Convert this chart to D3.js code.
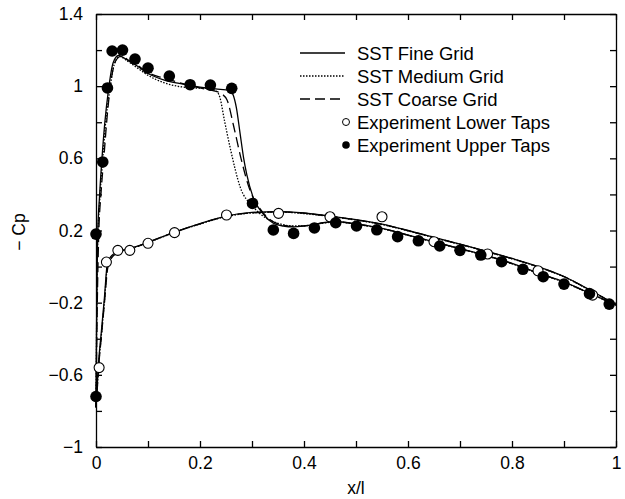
<!DOCTYPE html>
<html>
<head>
<meta charset="utf-8">
<script src="https://cdn.jsdelivr.net/npm/d3@7"></script>
<style>
  body { margin: 0; background: #fff; }
  text { font-family: "Liberation Sans", Arial, Helvetica, sans-serif; fill: #000; }
</style>
</head>
<body>
<div id="graph-container"></div>
<script>
// Experiment taps: [x/l, -Cp]
var upperTaps = [[0, -0.72], [0, 0.18], [0.013, 0.58], [0.022, 0.99], [0.031, 1.195], [0.051, 1.2],
  [0.075, 1.15], [0.1, 1.1], [0.141, 1.056], [0.181, 1.008], [0.22, 1.006], [0.261, 0.988],
  [0.301, 0.35], [0.341, 0.203], [0.38, 0.184], [0.42, 0.214], [0.461, 0.243], [0.501, 0.225],
  [0.54, 0.204], [0.58, 0.166], [0.62, 0.143], [0.661, 0.114], [0.7, 0.09], [0.74, 0.064],
  [0.78, 0.027], [0.821, -0.015], [0.86, -0.056], [0.9, -0.097], [0.949, -0.15], [0.987, -0.208]];
var lowerTaps = [[0.006, -0.56], [0.02, 0.025], [0.042, 0.09], [0.065, 0.09], [0.1, 0.129],
  [0.151, 0.188], [0.251, 0.286], [0.351, 0.295], [0.45, 0.276], [0.55, 0.276], [0.65, 0.138],
  [0.753, 0.07], [0.85, -0.023], [0.955, -0.158]];

// SST results, upper and lower surface: [x/l, -Cp]
var fineUpper = [[0, -0.78], [0.001, -0.35], [0.003, 0.15], [0.007, 0.4], [0.011, 0.58], [0.017, 0.8],
  [0.024, 0.98], [0.033, 1.13], [0.043, 1.17], [0.06, 1.145], [0.08, 1.11], [0.1, 1.07], [0.13, 1.035],
  [0.16, 1.015], [0.2, 0.995], [0.23, 0.985], [0.258, 0.975], [0.264, 0.95], [0.27, 0.88], [0.277, 0.74],
  [0.284, 0.6], [0.29, 0.51], [0.302, 0.385], [0.322, 0.29], [0.341, 0.24], [0.36, 0.225], [0.38, 0.22],
  [0.4, 0.225], [0.43, 0.24], [0.46, 0.25], [0.5, 0.237], [0.55, 0.212], [0.6, 0.175], [0.65, 0.137],
  [0.7, 0.1], [0.75, 0.062], [0.8, 0.018], [0.85, -0.035], [0.9, -0.085], [0.95, -0.148], [1, -0.212]];
var fineLower = [[0, -0.78], [0.002, -0.68], [0.005, -0.53], [0.01, -0.37], [0.016, -0.18], [0.022, 0.02],
  [0.03, 0.06], [0.04, 0.08], [0.06, 0.097], [0.08, 0.113], [0.1, 0.135], [0.15, 0.19], [0.2, 0.238],
  [0.25, 0.28], [0.3, 0.3], [0.35, 0.305], [0.4, 0.297], [0.45, 0.28], [0.5, 0.26], [0.55, 0.235],
  [0.6, 0.2], [0.65, 0.162], [0.7, 0.125], [0.75, 0.086], [0.8, 0.045], [0.85, 0.0], [0.9, -0.055],
  [0.95, -0.13], [1, -0.212]];
var mediumUpper = [[0, -0.78], [0.001, -0.4], [0.003, 0.1], [0.007, 0.36], [0.012, 0.56], [0.018, 0.78],
  [0.026, 0.97], [0.035, 1.12], [0.045, 1.165], [0.06, 1.14], [0.08, 1.1], [0.1, 1.06], [0.13, 1.02],
  [0.16, 0.998], [0.19, 0.99], [0.215, 0.988], [0.23, 0.975], [0.238, 0.94], [0.247, 0.81], [0.259, 0.646],
  [0.277, 0.443], [0.302, 0.332], [0.328, 0.267], [0.35, 0.24], [0.38, 0.225], [0.4, 0.226], [0.43, 0.238],
  [0.46, 0.247], [0.5, 0.235], [0.55, 0.21], [0.6, 0.173], [0.65, 0.135], [0.7, 0.098], [0.75, 0.06],
  [0.8, 0.016], [0.85, -0.037], [0.9, -0.087], [0.95, -0.15], [1, -0.212]];
var mediumLower = [[0, -0.78], [0.002, -0.69], [0.005, -0.55], [0.01, -0.39], [0.016, -0.2], [0.022, 0.0],
  [0.03, 0.05], [0.04, 0.075], [0.06, 0.095], [0.08, 0.112], [0.1, 0.133], [0.15, 0.188], [0.2, 0.236],
  [0.25, 0.277], [0.3, 0.297], [0.35, 0.302], [0.4, 0.294], [0.45, 0.278], [0.5, 0.258], [0.55, 0.233],
  [0.6, 0.198], [0.65, 0.16], [0.7, 0.123], [0.75, 0.084], [0.8, 0.043], [0.85, -0.002], [0.9, -0.057],
  [0.95, -0.132], [1, -0.212]];
var coarseUpper = [[0, -0.78], [0.002, -0.3], [0.005, 0.15], [0.01, 0.42], [0.015, 0.6], [0.022, 0.85],
  [0.03, 1.05], [0.04, 1.15], [0.048, 1.165], [0.065, 1.14], [0.08, 1.115], [0.1, 1.075], [0.13, 1.045],
  [0.16, 1.02], [0.2, 0.99], [0.225, 0.975], [0.24, 0.96], [0.252, 0.923], [0.265, 0.775], [0.278, 0.61],
  [0.296, 0.424], [0.315, 0.323], [0.335, 0.26], [0.36, 0.23], [0.38, 0.223], [0.4, 0.226], [0.43, 0.24],
  [0.46, 0.249], [0.5, 0.236], [0.55, 0.211], [0.6, 0.174], [0.65, 0.136], [0.7, 0.099], [0.75, 0.061],
  [0.8, 0.017], [0.85, -0.036], [0.9, -0.086], [0.95, -0.149], [1, -0.212]];
var coarseLower = [[0, -0.78], [0.002, -0.7], [0.005, -0.56], [0.01, -0.4], [0.016, -0.21], [0.023, 0.0],
  [0.03, 0.048], [0.04, 0.073], [0.06, 0.094], [0.08, 0.111], [0.1, 0.134], [0.15, 0.189], [0.2, 0.237],
  [0.25, 0.278], [0.3, 0.298], [0.35, 0.303], [0.4, 0.296], [0.45, 0.279], [0.5, 0.259], [0.55, 0.234],
  [0.6, 0.199], [0.65, 0.161], [0.7, 0.124], [0.75, 0.085], [0.8, 0.044], [0.85, -0.001], [0.9, -0.056],
  [0.95, -0.131], [1, -0.212]];

// Axis ticks and labels
var xTicks = [0, 0.1, 0.2, 0.3, 0.4, 0.5, 0.6, 0.7, 0.8, 0.9, 1];
var xLabels = [0, 0.2, 0.4, 0.6, 0.8, 1];
var yTicks = [-1, -0.8, -0.6, -0.4, -0.2, 0, 0.2, 0.4, 0.6, 0.8, 1, 1.2, 1.4];
var yLabels = [-1, -0.6, -0.2, 0.2, 0.6, 1, 1.4];

var legendNames = ["SST Fine Grid", "SST Medium Grid", "SST Coarse Grid",
  "Experiment Lower Taps", "Experiment Upper Taps"];

var svgWidth = 625;
var svgHeight = 499;
var margin = { top: 14, right: 9, bottom: 52, left: 96 };
var chartWidth = svgWidth - margin.left - margin.right;
var chartHeight = svgHeight - margin.top - margin.bottom;

var svg = d3.select("#graph-container")
  .append("svg")
  .attr("width", svgWidth)
  .attr("height", svgHeight);

var chart = svg.append("g")
  .attr("transform", "translate(" + margin.left + "," + margin.top + ")");

var xScale = d3.scaleLinear().domain([0, 1]).range([0, chartWidth]);
var yScale = d3.scaleLinear().domain([-1, 1.4]).range([chartHeight, 0]);

var fmt = d3.format("~g");
function has(list, v) {
  return list.some(function (l) { return Math.abs(l - v) < 1e-9; });
}

// Axes: inward ticks on all four sides, labels on left and bottom
var tickLen = 6;
chart.append("g")
  .attr("transform", "translate(0," + chartHeight + ")")
  .call(d3.axisBottom(xScale).tickValues(xTicks).tickSizeInner(-tickLen).tickSizeOuter(0).tickPadding(10)
    .tickFormat(function (d) { return has(xLabels, d) ? fmt(d) : ""; }));
chart.append("g")
  .call(d3.axisTop(xScale).tickValues(xTicks).tickSizeInner(-tickLen).tickSizeOuter(0)
    .tickFormat(""));
chart.append("g")
  .call(d3.axisLeft(yScale).tickValues(yTicks).tickSizeInner(-tickLen).tickSizeOuter(0).tickPadding(13)
    .tickFormat(function (d) { return has(yLabels, d) ? fmt(d) : ""; }));
chart.append("g")
  .attr("transform", "translate(" + chartWidth + ",0)")
  .call(d3.axisRight(yScale).tickValues(yTicks).tickSizeInner(-tickLen).tickSizeOuter(0)
    .tickFormat(""));

chart.selectAll(".tick text")
  .style("font-size", "17.5px")
  .style("font-family", "'Liberation Sans', Arial, sans-serif");
chart.selectAll(".domain, .tick line").attr("stroke", "#000").attr("stroke-width", 1.3);

// Axis titles
svg.append("text")
  .attr("x", margin.left + chartWidth / 2)
  .attr("y", 494)
  .attr("text-anchor", "middle")
  .style("font-size", "17.5px")
  .text("x/l");
svg.append("text")
  .attr("transform", "translate(25," + 232 + ") rotate(-90)")
  .attr("text-anchor", "middle")
  .style("font-size", "17.5px")
  .text("\u2212 Cp");

// SST curves
var line = d3.line()
  .x(function (d) { return xScale(d[0]); })
  .y(function (d) { return yScale(d[1]); })
  .curve(d3.curveMonotoneX);

var styles = [
  { name: legendNames[0], data: [fineUpper, fineLower], dash: null },
  { name: legendNames[1], data: [mediumUpper, mediumLower], dash: "1.5,1.5" },
  { name: legendNames[2], data: [coarseUpper, coarseLower], dash: "10,5" }
];

styles.forEach(function (s) {
  s.data.forEach(function (series) {
    chart.append("path")
      .datum(series)
      .attr("fill", "none")
      .attr("stroke", "#000")
      .attr("stroke-width", 1.3)
      .attr("stroke-dasharray", s.dash)
      .attr("d", line);
  });
});

// Experiment points
chart.selectAll(".lower")
  .data(lowerTaps)
  .enter().append("circle")
  .attr("cx", function (d) { return xScale(d[0]); })
  .attr("cy", function (d) { return yScale(d[1]); })
  .attr("r", 5)
  .attr("fill", "#fff")
  .attr("stroke", "#000")
  .attr("stroke-width", 1.1);
chart.selectAll(".upper")
  .data(upperTaps)
  .enter().append("circle")
  .attr("cx", function (d) { return xScale(d[0]); })
  .attr("cy", function (d) { return yScale(d[1]); })
  .attr("r", 5.8)
  .attr("fill", "#000");

// Legend
var legend = svg.append("g");
var rowY = [53, 76, 99, 122, 145];
styles.forEach(function (s, i) {
  legend.append("line")
    .attr("x1", 300).attr("x2", 345)
    .attr("y1", rowY[i]).attr("y2", rowY[i])
    .attr("stroke", "#000")
    .attr("stroke-width", 1.3)
    .attr("stroke-dasharray", s.dash);
});
legend.append("circle").attr("cx", 346).attr("cy", rowY[3]).attr("r", 3.5)
  .attr("fill", "#fff").attr("stroke", "#000").attr("stroke-width", 1);
legend.append("circle").attr("cx", 346).attr("cy", rowY[4]).attr("r", 3.8)
  .attr("fill", "#000");
legendNames.forEach(function (n, i) {
  legend.append("text")
    .attr("x", 357)
    .attr("y", rowY[i])
    .attr("dy", "0.36em")
    .style("font-size", "18.5px")
    .text(n);
});
</script>
</body>
</html>
